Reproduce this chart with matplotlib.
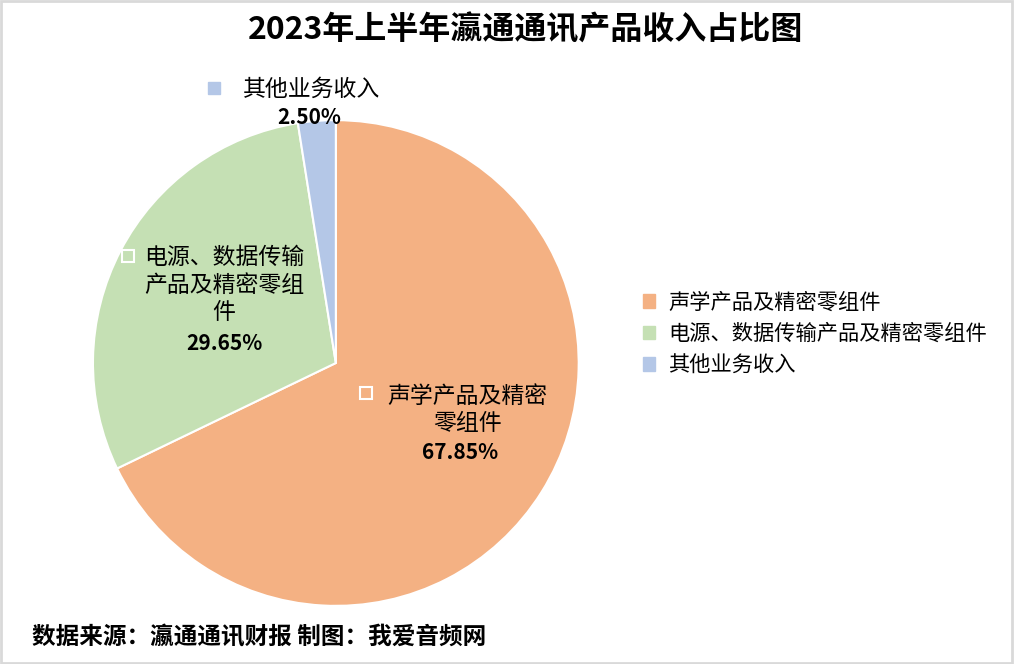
import numpy as np
import matplotlib.pyplot as plt
from matplotlib.patches import Rectangle

plt.rcParams['font.family'] = ['Noto Sans CJK SC', 'DejaVu Sans']

# data
categories = ['声学产品及精密零组件', '电源、数据传输产品及精密零组件', '其他业务收入']
label_texts = ['声学产品及精密\n零组件', '电源、数据传输\n产品及精密零组\n件', '其他业务收入']
shares = [67.85, 29.65, 2.50]
colors = ['#F4B183', '#C5E0B4', '#B4C7E7']

fig = plt.figure(figsize=(10.14, 6.64), dpi=100)
ax = fig.add_axes([0.0917, 0.0873, 0.479, 0.732])
wedges, _ = ax.pie(shares, colors=colors, startangle=90, counterclock=False,
                   wedgeprops=dict(edgecolor='white', linewidth=1.5))
ax.set_xlim(-1, 1)
ax.set_ylim(-1, 1)
ax.set_aspect('equal')

mids = [np.deg2rad((w.theta1 + w.theta2) / 2) for w in wedges]

# orange label
a = mids[0]
cx, cy = 0.57 * np.cos(a) + 0.03, 0.57 * np.sin(a) + 0.05
ax.text(cx + 0.03, cy + 0.06, label_texts[0], ha='center', va='center',
        fontsize=16.5, linespacing=1.25)
ax.plot(cx - 0.39, cy + 0.13, marker='s', ms=9, mfc='none', mec='white', mew=1.5,
        clip_on=False)
ax.text(cx, cy - 0.117, f'{shares[0]:.2f}%', ha='center', va='center',
        fontsize=15, fontweight='bold')

# green label
a = mids[1]
cx, cy = 0.52 * np.cos(a), 0.52 * np.sin(a)
ax.text(cx, cy + 0.08, label_texts[1], ha='center', va='center',
        fontsize=16.5, linespacing=1.25)
ax.plot(cx - 0.395, cy + 0.2, marker='s', ms=9, mfc='none', mec='white', mew=1.5,
        clip_on=False)
ax.text(cx, cy - 0.16, f'{shares[1]:.2f}%', ha='center', va='center',
        fontsize=15, fontweight='bold')

# blue label (outside)
a = mids[2]
cx, cy = 1.15 * np.cos(a), 1.15 * np.sin(a)
ax.text(cx - 0.01, cy - 0.02, label_texts[2], ha='center', va='center', fontsize=16.5)
ax.plot(cx - 0.41, cy - 0.015, marker='s', ms=9, mfc=colors[2], mec=colors[2],
        clip_on=False)
ax.text(cx - 0.02, cy - 0.135, f'{shares[2]:.2f}%', ha='center', va='center',
        fontsize=15, fontweight='bold')

fig.text(0.518, 0.955, '2023年上半年瀛通通讯产品收入占比图', ha='center', va='center',
         fontsize=23, fontweight='bold')

handles = [Rectangle((0, 0), 1, 1, color=c) for c in colors]
fig.legend(handles, categories, loc='center left', bbox_to_anchor=(0.615, 0.497),
           frameon=False, fontsize=15.3, handlelength=0.6, handleheight=0.6,
           handletextpad=0.6, labelspacing=0.45)

fig.text(0.032, 0.04, '数据来源：瀛通通讯财报 制图：我爱音频网', ha='left', va='center',
         fontsize=17, fontweight='bold')

fig.patches.append(Rectangle((0.001, 0.002), 0.997, 0.996, transform=fig.transFigure,
                             fill=False, edgecolor='#D9D9D9', linewidth=2))

fig.savefig('out.png', dpi=100)
